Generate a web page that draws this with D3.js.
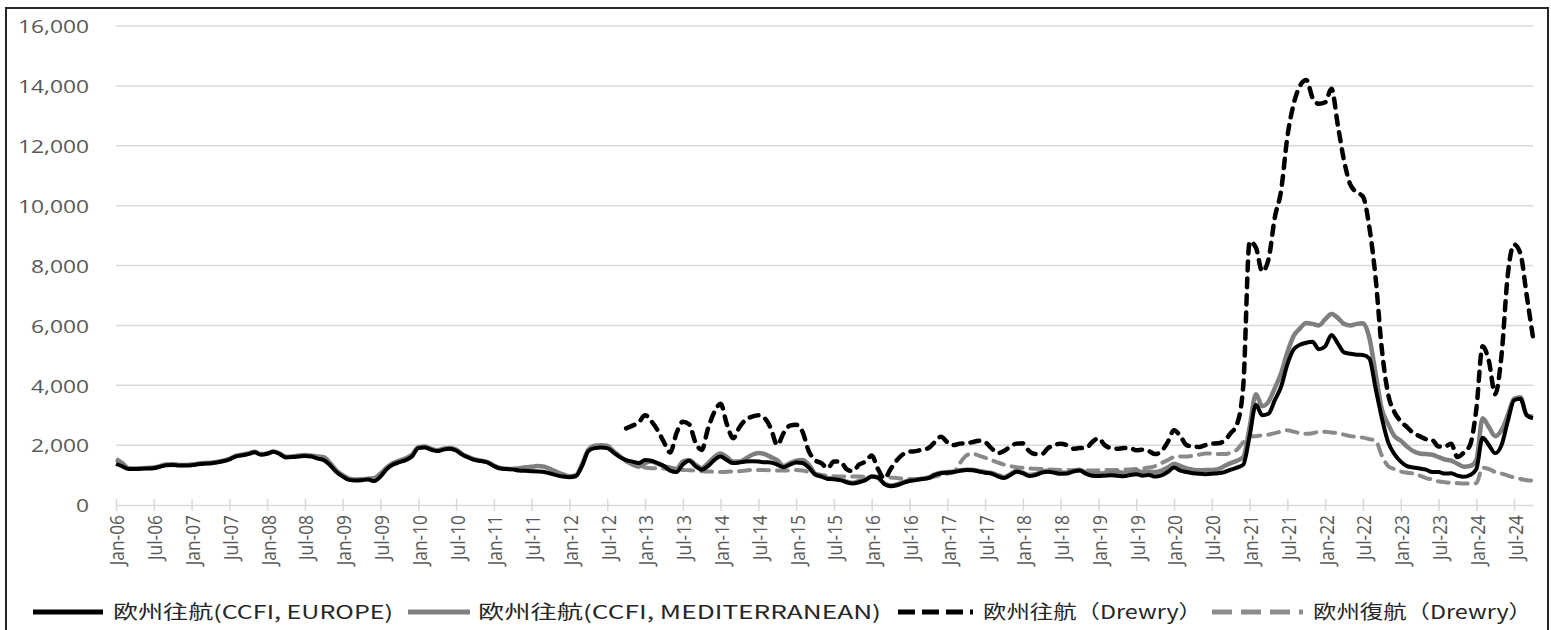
<!DOCTYPE html>
<html><head><meta charset="utf-8">
<script src="https://cdn.jsdelivr.net/npm/d3@7"></script>
<style>html,body{margin:0;padding:0;background:#fff;}svg{display:block;}</style>
</head><body>
<svg id="chart" width="1551" height="630"></svg>
<script>
// ---- Data (monthly, Jan-06 .. Oct-24) ----
const startYear = 2006, startMonth = 0, nMonths = 226;
const tickLabels = ["Jan-06","Jul-06","Jan-07","Jul-07","Jan-08","Jul-08","Jan-09","Jul-09","Jan-10","Jul-10","Jan-11","Jul-11","Jan-12","Jul-12","Jan-13","Jul-13","Jan-14","Jul-14","Jan-15","Jul-15","Jan-16","Jul-16","Jan-17","Jul-17","Jan-18","Jul-18","Jan-19","Jul-19","Jan-20","Jul-20","Jan-21","Jul-21","Jan-22","Jul-22","Jan-23","Jul-23","Jan-24","Jul-24"];
const yTicks = [0,2000,4000,6000,8000,10000,12000,14000,16000];

const europe = [
1370,1290,1200,1200,1210,1220,1230,1280,1330,1340,1320,1320,
1330,1360,1380,1390,1420,1460,1520,1620,1660,1700,1760,1680,
1710,1780,1700,1590,1600,1620,1640,1620,1550,1500,1330,1100,
950,840,820,830,850,800,950,1200,1350,1430,1500,1620,
1900,1920,1850,1800,1850,1880,1820,1680,1580,1500,1470,1420,
1300,1220,1200,1190,1150,1140,1130,1120,1100,1050,990,950,
930,960,1300,1800,1900,1920,1900,1750,1600,1500,1450,1400,
1500,1480,1400,1300,1150,1100,1350,1480,1300,1180,1300,1500,
1620,1500,1400,1420,1450,1460,1450,1430,1420,1350,1260,1350,
1420,1400,1250,1020,950,870,860,830,760,720,760,830,
950,920,700,630,660,740,800,830,870,900,1000,1060,
1080,1100,1140,1170,1160,1120,1080,1050,960,900,1000,1110,
1060,970,1000,1080,1110,1080,1040,1050,1120,1150,1050,980,
970,980,990,980,960,1000,1030,980,1000,950,990,1100,
1250,1150,1100,1060,1040,1030,1040,1060,1100,1180,1250,1350,
2300,3350,3000,3050,3500,3950,4700,5200,5350,5420,5450,5200,
5300,5680,5400,5100,5050,5020,5010,4900,3900,2900,2100,1700,
1450,1300,1250,1220,1180,1100,1100,1050,1060,980,940,1000,
1200,2250,2000,1730,2000,2800,3500,3550,3000,2900];

const mediterranean = [
1530,1400,1230,1220,1230,1240,1250,1300,1350,1360,1340,1340,
1350,1380,1400,1410,1440,1480,1540,1640,1680,1720,1780,1700,
1720,1790,1720,1610,1620,1650,1670,1650,1620,1600,1400,1150,
1000,880,850,860,880,900,1050,1250,1400,1480,1560,1680,
1930,1950,1880,1830,1880,1900,1850,1700,1600,1520,1480,1430,
1320,1240,1210,1200,1230,1260,1280,1300,1280,1200,1100,1020,
960,990,1350,1850,1980,2000,1980,1800,1630,1480,1350,1280,
1400,1450,1380,1300,1250,1200,1450,1500,1350,1230,1400,1600,
1720,1600,1450,1450,1550,1680,1740,1700,1600,1500,1300,1400,
1480,1500,1350,1050,980,900,880,850,780,740,800,850,
950,900,720,650,690,760,820,850,880,920,1020,1080,
1100,1120,1160,1180,1180,1140,1100,1070,1000,930,1030,1140,
1080,1000,1030,1110,1140,1100,1080,1080,1150,1180,1080,1060,
1050,1060,1080,1100,1070,1080,1150,1100,1110,1100,1150,1250,
1380,1300,1220,1180,1160,1170,1170,1200,1300,1400,1480,1600,
2600,3700,3300,3450,3900,4400,5100,5650,5900,6080,6050,6000,
6200,6380,6250,6050,6000,6050,6070,5600,4400,3200,2700,2300,
2150,1950,1800,1720,1700,1680,1600,1520,1480,1380,1280,1300,
1500,2900,2600,2300,2500,3000,3550,3600,3000,2950];

// Drewry series start at Oct-12 (month index 81)
const drewryStart = 81;
const drewryWest = [
2560,2650,2750,3000,2800,2500,2100,1750,2400,2780,
2700,2100,1840,2550,3100,3380,2700,2230,2600,2850,
2950,3000,2900,2550,2000,2400,2650,2680,2450,1800,
1500,1400,1230,1450,1450,1200,1130,1350,1450,1650,
1200,890,1200,1500,1700,1780,1800,1850,1900,2100,
2280,2100,2000,2050,2060,2100,2150,2100,1900,1730,
1800,1950,2050,2060,1800,1700,1700,1900,2000,2050,
2000,1880,1900,1900,2100,2230,2000,1900,1880,1900,
1900,1830,1850,1800,1700,1800,2100,2500,2300,2000,
1950,1940,2000,2050,2060,2150,2400,2700,4000,8800,
8600,7800,8200,9600,10500,12300,13400,14000,14200,13600,
13400,13450,13900,12700,11500,10700,10450,10300,9300,7600,
5200,3700,3100,2800,2600,2400,2300,2200,2170,1950,
1950,2050,1600,1750,2000,3200,5300,4800,3700,5000,
7700,8700,8400,7000,5600];
const drewryEast = [
1450,1380,1300,1250,1230,1230,1220,1200,1180,1170,
1160,1150,1130,1120,1110,1100,1110,1120,1130,1150,
1170,1170,1170,1160,1150,1150,1160,1170,1150,1100,
1050,1000,980,960,950,950,950,950,940,940,
940,930,920,900,880,870,860,880,900,950,
1000,1050,1100,1400,1650,1720,1650,1580,1500,1420,
1350,1300,1260,1240,1220,1210,1200,1190,1180,1170,
1170,1160,1150,1150,1150,1160,1170,1170,1170,1180,
1190,1200,1220,1250,1300,1400,1500,1600,1620,1620,
1650,1680,1720,1720,1700,1700,1750,1850,2100,2280,
2300,2330,2350,2400,2450,2500,2450,2400,2380,2400,
2440,2450,2420,2400,2350,2300,2280,2250,2200,2150,
1650,1300,1200,1120,1080,1050,980,900,850,790,
760,740,730,720,720,730,1250,1200,1100,1050,
980,920,870,830,810];

const seriesNames = ["欧州往航(CCFI, EUROPE)","欧州往航(CCFI, MEDITERRANEAN)","欧州往航（Drewry）","欧州復航（Drewry）"];

// ---- Layout ----
const svg = d3.select("#chart");
const W = 1551, H = 630;
const plot = {left:116, right:1533, top:26, bottom:505};
const x = d3.scaleLinear().domain([0, nMonths-1]).range([plot.left, plot.right]);
const y = d3.scaleLinear().domain([0,16000]).range([plot.bottom, plot.top]);

svg.append("rect").attr("x",0).attr("y",0).attr("width",W).attr("height",H).attr("fill","#fff");
svg.append("rect").attr("x",6).attr("y",8).attr("width",1542).attr("height",640)
  .attr("fill","none").attr("stroke","#262626").attr("stroke-width",2);

const txtColor = "#595959";
const fontFam = "'Open Sans','Noto Sans',sans-serif";

// gridlines
svg.append("g").selectAll("line").data(yTicks.filter(d=>d>0)).join("line")
  .attr("x1",plot.left).attr("x2",plot.right)
  .attr("y1",d=>y(d)).attr("y2",d=>y(d))
  .attr("stroke","#d9d9d9").attr("stroke-width",1.5);

// y axis labels
const yAxis = d3.axisLeft(y).tickValues(yTicks).tickSize(0).tickPadding(0).tickFormat(d3.format(","));
const gy = svg.append("g").attr("transform",`translate(89,0)`).call(yAxis);
gy.select(".domain").remove();
gy.selectAll(".tick text").attr("fill",txtColor).attr("font-family",fontFam).attr("font-size",19)
  .attr("x",0).attr("dy","0.36em")
  .attr("transform","scale(1.2,1)");

// x axis
const tickIdx = tickLabels.map((_,i)=>i*6);
const xAxis = d3.axisBottom(x).tickValues(tickIdx).tickSize(0).tickFormat((d,i)=>tickLabels[i]);
const gx = svg.append("g").attr("transform",`translate(0,${plot.bottom})`).call(xAxis);
gx.select(".domain").attr("stroke","#d9d9d9").attr("stroke-width",1.5);
gx.selectAll(".tick").append("line").attr("y1",-6).attr("y2",6).attr("stroke","#d9d9d9").attr("stroke-width",1.5);
gx.selectAll(".tick text")
  .attr("fill",txtColor).attr("font-family",fontFam).attr("font-size",17)
  .attr("text-anchor","end").attr("dy",null).attr("y",0)
  .attr("transform","translate(0,10) rotate(-90) scale(1.02,1.15)")
  .attr("dominant-baseline","central");

// lines
const line = d3.line().x(d=>x(d[0])).y(d=>y(d[1])).curve(d3.curveMonotoneX);
const pairs = (arr, start) => arr.map((v,i)=>[start+i, v]);

const styles = [
  {data:pairs(europe,0), stroke:"#000", width:4, dash:null, cap:"butt"},
  {data:pairs(mediterranean,0), stroke:"#7f7f7f", width:4.5, dash:null, cap:"butt"},
  {data:pairs(drewryEast,drewryStart), stroke:"#8a8a8a", width:4, dash:"11,8", cap:"round"},
  {data:pairs(drewryWest,drewryStart), stroke:"#000", width:4.5, dash:"9,8", cap:"round"},
];
const order = [2,1,0,3];
order.forEach(k=>{
  const s = styles[k];
  svg.append("path").datum(s.data).attr("d",line)
    .attr("fill","none").attr("stroke",s.stroke).attr("stroke-width",s.width)
    .attr("stroke-linejoin","round").attr("stroke-linecap",s.cap)
    .attr("stroke-dasharray",s.dash);
});

// legend
const legY = 612;
const legend = [
  {x1:33,x2:103,tx:113,tw:280,stroke:"#000",dash:null,w:5},
  {x1:408,x2:470,tx:478,tw:403,stroke:"#808080",dash:null,w:5},
  {x1:898,x2:973,tx:983,tw:219,stroke:"#000",dash:"17,7",w:5},
  {x1:1212,x2:1303,tx:1313,tw:219,stroke:"#8c8c8c",dash:"20,9",w:5},
];
const lg = svg.append("g");
legend.forEach((l,i)=>{
  lg.append("line").attr("x1",l.x1).attr("x2",l.x2).attr("y1",legY).attr("y2",legY)
    .attr("stroke",l.stroke).attr("stroke-width",l.w).attr("stroke-dasharray",l.dash);
  lg.append("text").attr("x",l.tx).attr("y",legY).attr("dy","0.35em")
    .attr("font-family","'Noto Sans CJK JP','Noto Sans',sans-serif").attr("font-size",19)
    .attr("fill","#262626").attr("textLength",l.tw).attr("lengthAdjust","spacingAndGlyphs")
    .text(seriesNames[i]);
});
</script>
</body></html>
